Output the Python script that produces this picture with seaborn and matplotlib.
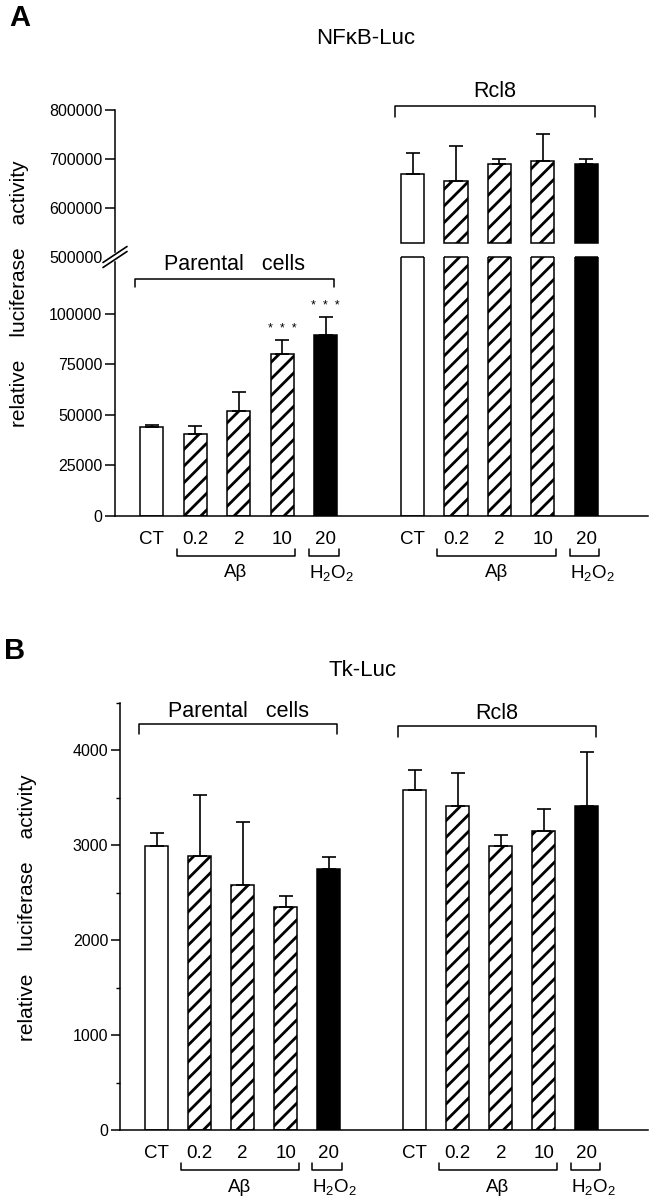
import pandas as pd
import seaborn as sns
import matplotlib.pyplot as plt
from matplotlib.lines import Line2D
from matplotlib.ticker import MultipleLocator

sns.set_style("ticks")
plt.rcParams['font.family'] = ['Liberation Sans', 'DejaVu Sans']
plt.rcParams['hatch.linewidth'] = 2.0
plt.rcParams['mathtext.default'] = 'regular'
for k in ['text.color', 'axes.labelcolor', 'xtick.color', 'ytick.color', 'axes.edgecolor']:
    plt.rcParams[k] = 'black'

W, H, DPI = 656, 1200, 100

# chart data
doses = ['CT', '0.2', '2', '10', '20']
treatments = ['CT', 'Aβ', 'Aβ', 'Aβ', 'H2O2']
cell_lines = ['Parental cells', 'Rcl8']

nfkb_parental = [44000, 40500, 51800, 80000, 89500]
nfkb_parental_sd = [800, 4200, 9500, 7000, 8800]
nfkb_rcl8 = [670000, 655000, 690000, 695000, 690000]
nfkb_rcl8_sd = [42000, 72000, 9000, 55000, 10000]
nfkb_signif = ['', '', '', '*  *  *', '*  *  *']

tk_parental = [2990, 2890, 2585, 2345, 2750]
tk_parental_sd = [140, 640, 658, 120, 123]
tk_rcl8 = [3585, 3410, 2990, 3155, 3410]
tk_rcl8_sd = [212, 352, 123, 232, 570]

order = [f'{cell_lines[0]} {d}' for d in doses] + ['gap'] + [f'{cell_lines[1]} {d}' for d in doses]
XLIM = (-0.85, 11.42)


def make_df(par, par_sd, rcl, rcl_sd):
    rows = []
    for cell, vals, sds in zip(cell_lines, [par, rcl], [par_sd, rcl_sd]):
        for d, t, v, s in zip(doses, treatments, vals, sds):
            rows.append({'slot': f'{cell} {d}', 'cell': cell, 'dose': d,
                         'treat': t, 'value': v, 'sd': s})
    return pd.DataFrame(rows)


def draw_bars(ax, df):
    sns.barplot(data=df, x='slot', y='value', order=order, color='white',
                width=0.53, errorbar=None, edgecolor='black', linewidth=1.1, ax=ax)
    treat_of = dict(zip(df['slot'], df['treat']))
    for p in ax.patches:
        slot = order[int(round(p.get_x() + p.get_width() / 2))]
        t = treat_of[slot]
        p.set_edgecolor('black')
        if t == 'H2O2':
            p.set_facecolor('black')
        else:
            p.set_facecolor('white')
            if t == 'Aβ':
                p.set_hatch('//')
    for _, r in df.iterrows():
        x = order.index(r['slot'])
        ax.errorbar(x, r['value'], yerr=[[0], [r['sd']]], fmt='none', ecolor='black',
                    elinewidth=1.2, capsize=4.7, capthick=1.2, zorder=3)
    ax.set_xlim(*XLIM)
    ax.set_xlabel('')
    ax.set_ylabel('')
    ax.set_facecolor('none')


def px_to_data(ax, px):
    y0, y1 = ax.get_ylim()
    return px * (y1 - y0) / (ax.get_position().height * H)


def top_bracket(ax, group, y, drop_px, label_px, label):
    x0 = order.index(f'{cell_lines[group]} {doses[0]}') - 0.4
    x1 = order.index(f'{cell_lines[group]} {doses[-1]}') + 0.2
    d = px_to_data(ax, drop_px)
    ax.plot([x0, x0, x1, x1], [y - d, y, y, y - d], color='black', lw=1.1, clip_on=False)
    ax.annotate(label, ((x0 + x1) / 2, y), xytext=(0, label_px), textcoords='offset pixels',
                ha='center', va='center', fontsize=15.5, annotation_clip=False)


def bottom_labels(ax):
    ah = ax.get_position().height * H
    f = lambda px: -px / ah
    tr = ax.get_xaxis_transform()
    for g in range(2):
        pos = [order.index(f'{cell_lines[g]} {d}') for d in doses]
        a0, a1 = pos[1] - 0.43, pos[3] + 0.3
        ax.plot([a0, a0, a1, a1], [f(33), f(40), f(40), f(33)], color='black', lw=1.1,
                transform=tr, clip_on=False)
        ax.text((a0 + a1) / 2, f(57), 'Aβ', transform=tr, ha='center', va='center', fontsize=13.5)
        h0, h1 = pos[4] - 0.38, pos[4] + 0.3
        ax.plot([h0, h0, h1, h1], [f(33), f(40), f(40), f(33)], color='black', lw=1.1,
                transform=tr, clip_on=False)
        ax.text(h0, f(57), 'H$_2$O$_2$', transform=tr, ha='left', va='center', fontsize=13.5)
    ticks = [order.index(f'{c} {d}') for c in cell_lines for d in doses]
    ax.set_xticks(ticks, doses * 2)
    ax.tick_params(axis='x', length=0, pad=11, labelsize=13.5)


fig = plt.figure(figsize=(W / DPI, H / DPI), dpi=DPI)

# ---------------- panel A: NFkB-Luc (broken axis) ----------------
nfkb = make_df(nfkb_parental, nfkb_parental_sd, nfkb_rcl8, nfkb_rcl8_sd)
ax_lo = fig.add_axes([115 / W, 1 - 516 / H, 533 / W, 259 / H])
ax_hi = fig.add_axes([115 / W, 1 - 257 / H, 533 / W, 147 / H])

draw_bars(ax_lo, nfkb)
ax_lo.set_ylim(0, 128000)
ax_lo.set_yticks([0, 25000, 50000, 75000, 100000])
sns.despine(ax=ax_lo)
ax_lo.spines['left'].set_bounds(0, 125700)
top = ax_lo.get_ylim()[1]
for p in ax_lo.patches:
    if p.get_height() > top:
        ax_lo.plot([p.get_x(), p.get_x() + p.get_width()], [top, top], color='black',
                   lw=1.1, clip_on=False, solid_capstyle='butt')
for _, r in nfkb.iterrows():
    mark = nfkb_signif[doses.index(r['dose'])]
    if r['cell'] == cell_lines[0] and mark:
        ax_lo.annotate(mark, (order.index(r['slot']), r['value'] + r['sd']),
                       xytext=(0, 11), textcoords='offset pixels', ha='center', va='center', fontsize=9)
bottom_labels(ax_lo)

draw_bars(ax_hi, nfkb)
ax_hi.set_ylim(500000, 800000)
ax_hi.set_yticks([500000, 600000, 700000, 800000])
cut = 529000
for p in ax_hi.patches:
    if p.get_height() > cut:
        p.set_height(p.get_height() - cut)
        p.set_y(cut)
sns.despine(ax=ax_hi, bottom=True)
ax_hi.spines['left'].set_bounds(510000, 800000)
ax_hi.set_xticks([])
ax_hi.yaxis.get_major_ticks()[0].tick1line.set_visible(False)

for a in (ax_lo, ax_hi):
    a.tick_params(axis='y', length=7, width=1.1, pad=2, labelsize=11.5)
    a.spines['left'].set_linewidth(1.1)
ax_lo.spines['bottom'].set_linewidth(1.1)

top_bracket(ax_lo, 0, 117300, 8, 14, 'Parental   cells')
top_bracket(ax_hi, 1, 808000, 11, 15, 'Rcl8')

# axis break marks
for off in (-2.5, 2.5):
    fig.add_artist(Line2D([(115 - 12) / W, (115 + 12) / W],
                          [1 - (257 + off + 8) / H, 1 - (257 + off - 8) / H],
                          color='black', lw=1.2))

fig.text(20 / W, 1 - 18 / H, 'A', fontsize=21, fontweight='bold', ha='center', va='center')
fig.text(366 / W, 1 - 39 / H, 'NFκB-Luc', fontsize=16, ha='center', va='center')
fig.text(20 / W, 1 - 294 / H, 'relative    luciferase    activity', rotation=90,
         fontsize=15, ha='center', va='center')

# ---------------- panel B: Tk-Luc ----------------
tk = make_df(tk_parental, tk_parental_sd, tk_rcl8, tk_rcl8_sd)
ax_b = fig.add_axes([120 / W, 1 - 1130 / H, 528 / W, 427 / H])
draw_bars(ax_b, tk)
ax_b.set_ylim(0, 4500)
ax_b.set_yticks([0, 1000, 2000, 3000, 4000])
ax_b.yaxis.set_minor_locator(MultipleLocator(500))
sns.despine(ax=ax_b)
ax_b.tick_params(axis='y', which='major', length=6.5, width=1.1, pad=2, labelsize=11.5)
ax_b.tick_params(axis='y', which='minor', length=3, width=1.0)
ax_b.spines['left'].set_linewidth(1.1)
ax_b.spines['bottom'].set_linewidth(1.1)
bottom_labels(ax_b)
top_bracket(ax_b, 0, 4280, 10, 12, 'Parental   cells')
top_bracket(ax_b, 1, 4255, 11, 13, 'Rcl8')

fig.text(15 / W, 1 - 651 / H, 'B', fontsize=21, fontweight='bold', ha='center', va='center')
fig.text(363 / W, 1 - 670 / H, 'Tk-Luc', fontsize=16, ha='center', va='center')
fig.text(28 / W, 1 - 908 / H, 'relative    luciferase    activity', rotation=90,
         fontsize=15, ha='center', va='center')

fig.savefig('out.png', dpi=DPI)
